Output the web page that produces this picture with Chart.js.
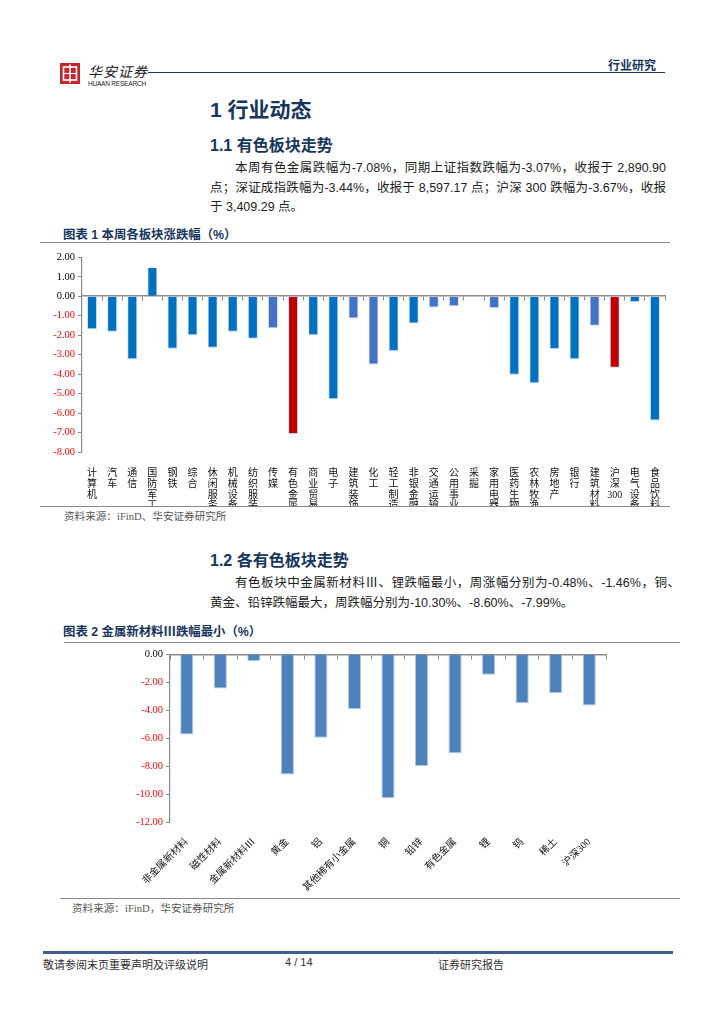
<!DOCTYPE html>
<html>
<head>
<meta charset="utf-8">
<script src="https://cdn.jsdelivr.net/npm/chart.js@4/dist/chart.umd.min.js"></script>
<style>
  html, body { margin: 0; padding: 0; background: #fff; }
  body { width: 724px; height: 1024px; position: relative; overflow: hidden;
         font-family: 'Liberation Sans', 'Noto Sans CJK SC', sans-serif; color: #222; }
  .abs { position: absolute; white-space: nowrap; }
  .navy { color: #17365D; }
  .h1 { font-size: 21px; font-weight: bold; }
  .h2 { font-size: 16px; font-weight: bold; }
  .para { font-size: 12.5px; width: 456px; text-align: justify; text-align-last: justify; }
  .para.last { text-align-last: left; }
  .figt { font-size: 12.4px; font-weight: bold; }
  .rule { position: absolute; height: 0; border-top: 1.5px solid #8a8a8a; }
  .src { font-size: 10.6px; color: #555; font-family: 'Liberation Serif', 'Noto Sans CJK SC', serif; }
  .foot { font-size: 11px; color: #333; }
</style>
</head>
<body>

<!-- header -->
<svg class="abs" style="left:60px;top:63px" width="20" height="21" viewBox="0 0 20 21">
  <rect x="0" y="0" width="20" height="21" fill="#C2262E"/>
  <rect x="3.5" y="4" width="13" height="13" fill="none" stroke="#fff" stroke-width="1.6"/>
  <line x1="10" y1="1.5" x2="10" y2="19.5" stroke="#fff" stroke-width="1.6"/>
  <line x1="3.5" y1="10.5" x2="16.5" y2="10.5" stroke="#fff" stroke-width="1.2"/>
</svg>
<div class="abs" style="left:88px;top:61px;font-size:14px;font-style:italic;letter-spacing:1px">华安证券</div>
<div class="abs" style="left:88px;top:80px;font-size:6.5px;letter-spacing:-0.2px">HUAAN RESEARCH</div>
<div class="abs" style="left:148px;top:72px;width:517px;border-top:1.5px solid #1F3864"></div>
<div class="abs navy" style="left:608px;top:56px;font-size:12px;font-weight:bold">行业研究</div>

<!-- section 1 -->
<div class="abs navy h1" style="left:210px;top:93px">1 行业动态</div>
<div class="abs navy h2" style="left:210px;top:132px">1.1 有色板块走势</div>
<div class="abs para" style="left:210px;top:157px;width:431px;padding-left:25px">本周有色金属跌幅为-7.08%，同期上证指数跌幅为-3.07%，收报于 2,890.90</div>
<div class="abs para" style="left:210px;top:177px">点；深证成指跌幅为-3.44%，收报于 8,597.17 点；沪深 300 跌幅为-3.67%，收报</div>
<div class="abs para last" style="left:210px;top:196px">于 3,409.29 点。</div>

<div class="abs navy figt" style="left:63px;top:225px">图表 1 本周各板块涨跌幅（%）</div>
<div class="rule" style="left:40px;top:242px;width:630px"></div>
<div class="abs" style="left:40px;top:248px;width:630px;height:258px"><canvas id="sectorChart"></canvas></div>
<div class="rule" style="left:40px;top:506px;width:630px"></div>
<div class="abs src" style="left:64px;top:508px">资料来源：iFinD、华安证券研究所</div>

<!-- section 2 -->
<div class="abs navy h2" style="left:210px;top:547px">1.2 各有色板块走势</div>
<div class="abs para" style="left:210px;top:572px;width:445px;padding-left:25px">有色板块中金属新材料Ⅲ、锂跌幅最小，周涨幅分别为-0.48%、-1.46%，铜、</div>
<div class="abs para last" style="left:210px;top:592px">黄金、铅锌跌幅最大，周跌幅分别为-10.30%、-8.60%、-7.99%。</div>

<div class="abs navy figt" style="left:63px;top:622px">图表 2 金属新材料Ⅲ跌幅最小（%）</div>
<div class="rule" style="left:64px;top:642px;width:616px"></div>
<div class="abs" style="left:60px;top:645px;width:620px;height:252px"><canvas id="metalChart"></canvas></div>
<div class="rule" style="left:60px;top:898px;width:620px"></div>
<div class="abs src" style="left:72px;top:900px">资料来源：iFinD，华安证券研究所</div>

<!-- footer -->
<div class="abs" style="left:43px;top:951px;width:630px;border-top:3px solid #3E5F8C"></div>
<div class="abs foot" style="left:43px;top:956px">敬请参阅末页重要声明及评级说明</div>
<div class="abs foot" style="left:285px;top:956px">4 / 14</div>
<div class="abs foot" style="left:438px;top:956px">证券研究报告</div>

<script>
// Chart 1: weekly change by sector (%)
var sectorNames = ['计算机', '汽车', '通信', '国防军工', '钢铁', '综合', '休闲服务', '机械设备', '纺织服装', '传媒',
    '有色金属', '商业贸易', '电子', '建筑装饰', '化工', '轻工制造', '非银金融', '交通运输', '公用事业', '采掘',
    '家用电器', '医药生物', '农林牧渔', '房地产', '银行', '建筑材料', '沪深300', '电气设备', '食品饮料'];
var sectorChange = [-1.70, -1.83, -3.24, 1.45, -2.70, -2.01, -2.64, -1.83, -2.18, -1.64,
    -7.08, -2.01, -5.29, -1.14, -3.51, -2.81, -1.40, -0.58, -0.51, 0,
    -0.61, -4.03, -4.47, -2.71, -3.24, -1.52, -3.67, -0.29, -6.38];
var sectorTicks = [2, 1, 0, -1, -2, -3, -4, -5, -6, -7, -8];

// Chart 2: weekly change by non-ferrous sub-sector (%)
var metalNames = ['非金属新材料', '磁性材料', '金属新材料Ⅲ', '黄金', '铝', '其他稀有小金属', '铜',
    '铅锌', '有色金属', '锂', '钨', '稀土', '沪深300'];
var metalChange = [-5.73, -2.44, -0.48, -8.60, -5.97, -3.91, -10.30, -7.99, -7.08, -1.46, -3.51, -2.77, -3.67];
var metalTicks = [0, -2, -4, -6, -8, -10, -12];

// styling lookups (kept apart from the data)
var redBars = ['有色金属', '沪深300'];
var lightBars = ['传媒', '建筑装饰', '化工', '交通运输', '公用事业', '家用电器', '建筑材料'];

var serif = "'Liberation Serif', 'Noto Sans CJK SC', serif";
var axisGray = '#8a8a8a';

function tickColor(ctx) { return ctx.tick && ctx.tick.value < 0 ? '#FF0000' : '#000'; }

function stackChars(name) { return name.match(/\d+|./g); }

function yScale(ticks, width) {
    return {
        min: ticks[ticks.length - 1], max: ticks[0],
        afterBuildTicks: function (s) { s.ticks = ticks.map(function (v) { return { value: v }; }); },
        afterFit: function (s) { s.width = width; },
        ticks: { callback: function (v) { return Number(v).toFixed(2); }, color: tickColor,
                 font: { family: serif, size: 10.5 }, padding: 3 },
        grid: { drawOnChartArea: false, tickLength: 4, color: axisGray },
        border: { color: axisGray, width: 1.2 }
    };
}

function zeroAxis() {
    return {
        position: { y: 0 },
        offset: true,
        ticks: { display: false },
        grid: { drawOnChartArea: false, tickLength: 4, color: axisGray, offset: true },
        border: { color: axisGray, width: 1.5 }
    };
}

new Chart(document.getElementById('sectorChart'), {
    type: 'bar',
    data: {
        labels: sectorNames,
        datasets: [{
            data: sectorChange,
            backgroundColor: sectorNames.map(function (n) {
                return redBars.indexOf(n) >= 0 ? '#C00000' : (lightBars.indexOf(n) >= 0 ? '#4472C4' : '#0070C0');
            }),
            borderColor: 'rgba(160,190,230,0.7)',
            borderWidth: { left: 0.8, right: 0.8, top: 0, bottom: 1 },
            barPercentage: 1,
            categoryPercentage: 0.48
        }]
    },
    options: {
        responsive: true, maintainAspectRatio: false, animation: false,
        layout: { padding: { top: 9, right: 5, bottom: 0, left: 0 } },
        plugins: { legend: { display: false }, tooltip: { enabled: false } },
        scales: {
            x: zeroAxis(),
            x2: {
                type: 'category', position: 'bottom', offset: true,
                labels: sectorNames.map(stackChars),
                afterFit: function (s) { s.height = 54; },
                ticks: { autoSkip: false, maxRotation: 0, minRotation: 0, padding: 8, color: '#111',
                         font: { family: serif, size: 10, lineHeight: 1.08 } },
                grid: { display: false }, border: { display: false }
            },
            y: yScale(sectorTicks, 42)
        }
    }
});

new Chart(document.getElementById('metalChart'), {
    type: 'bar',
    data: {
        labels: metalNames,
        datasets: [{
            data: metalChange,
            backgroundColor: '#4F81BD',
            borderColor: 'rgba(170,195,230,0.9)',
            borderWidth: { left: 1, right: 1, top: 0, bottom: 1 },
            barPercentage: 0.49,
            categoryPercentage: 0.8
        }]
    },
    options: {
        responsive: true, maintainAspectRatio: false, animation: false,
        layout: { padding: { top: 8, right: 74, bottom: 0, left: 0 } },
        plugins: { legend: { display: false }, tooltip: { enabled: false } },
        scales: {
            x: zeroAxis(),
            x2: {
                type: 'category', position: 'bottom', offset: true,
                labels: metalNames,
                afterFit: function (s) { s.height = 75; },
                ticks: { autoSkip: false, maxRotation: 45, minRotation: 45, padding: 6, color: '#111',
                         font: { family: serif, size: 10 } },
                grid: { display: false }, border: { display: false }
            },
            y: yScale(metalTicks, 110)
        }
    }
});
</script>
</body>
</html>
